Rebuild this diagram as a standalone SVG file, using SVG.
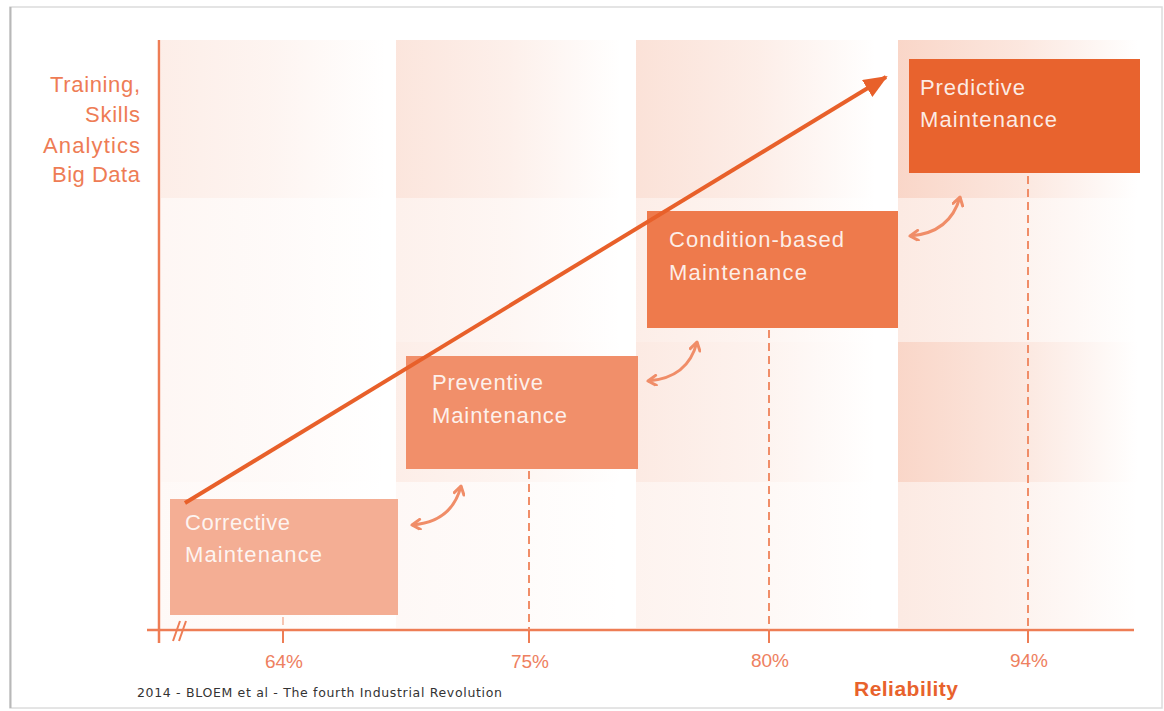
<svg xmlns="http://www.w3.org/2000/svg" width="1164" height="711" viewBox="0 0 1164 711">
<style>
.axis{stroke:#ee7d55;stroke-width:2.5;fill:none}
.dash{stroke:#f08d68;stroke-width:2;stroke-dasharray:8 5;fill:none}
.tick{stroke:#ee7d55;stroke-width:2;fill:none}
.ylab{font-family:"Liberation Sans",Arial,sans-serif;font-size:22px;fill:#ee7c55;text-anchor:end}
.pct{font-family:"Liberation Sans",Arial,sans-serif;font-size:19px;fill:#ee8060;text-anchor:middle}
.btxt{font-family:"Liberation Sans",Arial,sans-serif;font-size:22px;fill:#ffffff;fill-opacity:0.88}
.swap{stroke:#f08d68;stroke-width:3;fill:none;marker-start:url(#chev);marker-end:url(#chev)}
.panel{fill:url(#fade)}
</style>
<defs>
<linearGradient id="fade" x1="0" y1="0" x2="1" y2="0">
<stop offset="0" stop-color="#ef8a62" stop-opacity="1"/>
<stop offset="0.5" stop-color="#ef8a62" stop-opacity="0.6"/>
<stop offset="1" stop-color="#ef8a62" stop-opacity="0"/>
</linearGradient>
<marker id="chev" viewBox="0 0 12 12" refX="10" refY="6" markerWidth="12" markerHeight="12" markerUnits="userSpaceOnUse" orient="auto-start-reverse">
<path d="M2,1 L10,6 L2,11" fill="none" stroke="#f08d68" stroke-width="3" stroke-linecap="round" stroke-linejoin="round"/>
</marker>
<marker id="bigHead" viewBox="0 0 24 20" refX="22" refY="10" markerWidth="24" markerHeight="20" markerUnits="userSpaceOnUse" orient="auto">
<path d="M0,0 L24,10 L0,20 z" fill="#e8602a"/>
</marker>
</defs>

<rect x="10" y="7" width="1152" height="701" fill="#ffffff" stroke="#dcdcdc" stroke-width="1.5"/>
<line x1="10.5" y1="7" x2="10.5" y2="708" stroke="#b8b8b8" stroke-width="2"/>

<g id="background">
<rect class="panel" x="161" y="40" width="225" height="158" fill-opacity="0.15"/>
<rect class="panel" x="161" y="198" width="225" height="144" fill-opacity="0.07"/>
<rect class="panel" x="161" y="342" width="225" height="140" fill-opacity="0.07"/>
<rect class="panel" x="161" y="482" width="225" height="146" fill-opacity="0.05"/>
<rect class="panel" x="396" y="40" width="225" height="158" fill-opacity="0.22"/>
<rect class="panel" x="396" y="198" width="225" height="144" fill-opacity="0.12"/>
<rect class="panel" x="396" y="342" width="225" height="140" fill-opacity="0.15"/>
<rect class="panel" x="396" y="482" width="225" height="146" fill-opacity="0.06"/>
<rect class="panel" x="636" y="40" width="240" height="158" fill-opacity="0.25"/>
<rect class="panel" x="636" y="198" width="240" height="144" fill-opacity="0.15"/>
<rect class="panel" x="636" y="342" width="240" height="140" fill-opacity="0.18"/>
<rect class="panel" x="636" y="482" width="240" height="146" fill-opacity="0.1"/>
<rect class="panel" x="898" y="40" width="240" height="158" fill-opacity="0.35"/>
<rect class="panel" x="898" y="198" width="240" height="144" fill-opacity="0.18"/>
<rect class="panel" x="898" y="342" width="240" height="140" fill-opacity="0.35"/>
<rect class="panel" x="898" y="482" width="240" height="146" fill-opacity="0.18"/>
</g>

<g id="axes">
<line class="axis" x1="159" y1="40" x2="159" y2="643"/>
<line class="axis" x1="147" y1="630" x2="1134" y2="630"/>
<line class="tick" x1="173" y1="641" x2="180" y2="621"/>
<line class="tick" x1="179" y1="641" x2="186" y2="621"/>
<line class="tick" x1="283" y1="630" x2="283" y2="643"/>
<line class="tick" x1="529" y1="630" x2="529" y2="643"/>
<line class="tick" x1="769" y1="630" x2="769" y2="643"/>
<line class="tick" x1="1028" y1="630" x2="1028" y2="643"/>
<line class="dash" x1="283" y1="617" x2="283" y2="630" stroke-opacity="0.5"/>
<line class="dash" x1="529" y1="471" x2="529" y2="630"/>
<line class="dash" x1="769" y1="330" x2="769" y2="630"/>
<line class="dash" x1="1028" y1="176" x2="1028" y2="630"/>
<text class="ylab" x="140" y="92" textLength="90">Training,</text>
<text class="ylab" x="140" y="122" textLength="55">Skills</text>
<text class="ylab" x="140" y="153" textLength="97">Analytics</text>
<text class="ylab" x="140" y="182" textLength="88">Big Data</text>
<text class="pct" x="284" y="668">64%</text>
<text class="pct" x="530" y="668">75%</text>
<text class="pct" x="770" y="667">80%</text>
<text class="pct" x="1029" y="667">94%</text>
<text x="906" y="696" text-anchor="middle" font-family="'Liberation Sans',Arial,sans-serif" font-weight="bold" font-size="21" fill="#e8622c" textLength="104">Reliability</text>
<text x="137" y="697" font-family="'DejaVu Sans',Verdana,sans-serif" font-size="12.5" fill="#333333" textLength="365">2014 - BLOEM et al - The fourth Industrial Revolution</text>
</g>

<g id="corrective">
<rect x="170" y="499" width="228" height="116" fill="#f4ae94"/>
<text class="btxt" x="185" y="530" textLength="105">Corrective</text>
<text class="btxt" x="185" y="562" textLength="137">Maintenance</text>
</g>

<g id="preventive">
<rect x="406" y="356" width="232" height="113" fill="#f18f6a"/>
<text class="btxt" x="432" y="390" textLength="111">Preventive</text>
<text class="btxt" x="432" y="423" textLength="135">Maintenance</text>
</g>

<g id="condition">
<rect x="647" y="211" width="251" height="117" fill="#ee7a4c"/>
<text class="btxt" x="669" y="247" textLength="175">Condition-based</text>
<text class="btxt" x="669" y="280" textLength="138">Maintenance</text>
</g>

<g id="predictive">
<rect x="909" y="59" width="231" height="114" fill="#e8632e"/>
<text class="btxt" x="920" y="95" textLength="105">Predictive</text>
<text class="btxt" x="920" y="127" textLength="137">Maintenance</text>
</g>

<g id="connectors">
<line x1="185" y1="503" x2="886" y2="77" stroke="#e8602a" stroke-width="4" marker-end="url(#bigHead)"/>
<path class="swap" d="M412,525 Q452,522 461,486"/>
<path class="swap" d="M648,381 Q688,378 697,342"/>
<path class="swap" d="M910,236 Q950,233 960,197"/>
</g>
</svg>
